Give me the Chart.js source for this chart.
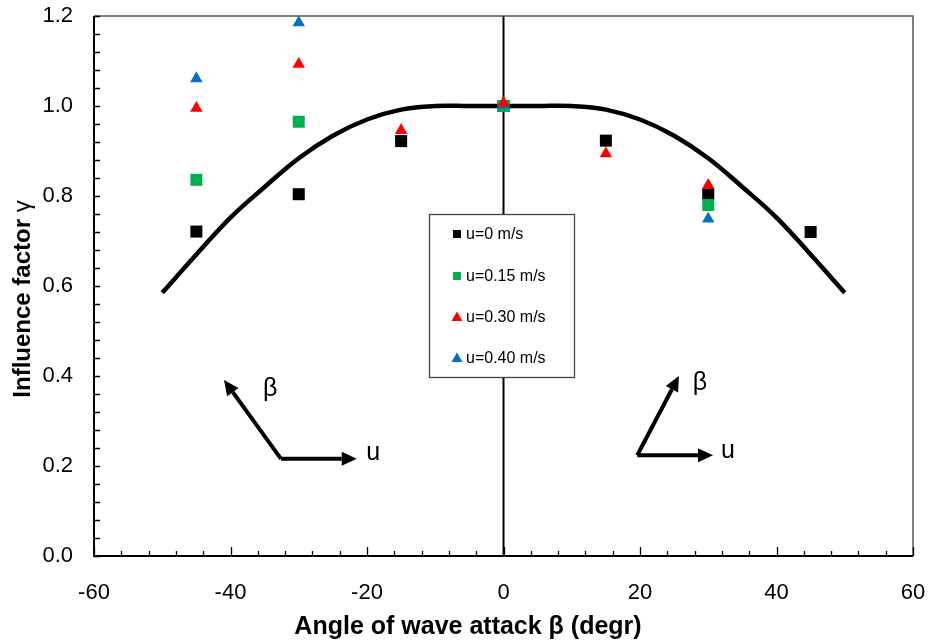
<!DOCTYPE html>
<html><head><meta charset="utf-8">
<script src="https://cdn.jsdelivr.net/npm/chart.js@4/dist/chart.umd.min.js"></script>
<style>html,body{margin:0;padding:0;background:#fff;}#wrap{width:934px;height:643px;position:relative;}</style>
</head><body><div id="wrap"><canvas id="c" width="934" height="643"></canvas></div>
<script>
// ---- data ----
const anglesU000 = [-45, -30, -15, 0, 15, 30, 45];
const gammaU000  = [0.721, 0.804, 0.922, 1.0, 0.923, 0.804, 0.72];
const anglesU015 = [-45, -30, 0, 30];
const gammaU015  = [0.836, 0.965, 1.0, 0.78];
const anglesU030 = [-45, -30, -15, 0, 15, 30];
const gammaU030  = [0.995, 1.093, 0.946, 1.007, 0.894, 0.824];
const anglesU040 = [-45, -30, 0, 30];
const gammaU040  = [1.061, 1.185, 1.002, 0.749];
const curveAngles = [-50, -45, -40, -35, -30, -25, -20, -15, -10, -5, 0, 5, 10, 15, 20, 25, 30, 35, 40, 45, 50];
const curveGamma  = [0.585, 0.67, 0.752, 0.82, 0.884, 0.934, 0.97, 0.992, 1.0, 1.0, 1.0, 1.0, 1.0, 0.992, 0.97, 0.934, 0.884, 0.82, 0.752, 0.67, 0.585];
const zeroLineX = [0, 0];
const zeroLineY = [0, 1.2];
const seriesLabels = ['u=0 m/s', 'u=0.15 m/s', 'u=0.30 m/s', 'u=0.40 m/s'];
const seriesColors = ['#000000', '#00B050', '#FF0000', '#0070C0'];
const seriesStyles = ['rect', 'rect', 'triangle', 'triangle'];
const xTickValues = [-60, -40, -20, 0, 20, 40, 60];
const yTickValues = [0.0, 0.2, 0.4, 0.6, 0.8, 1.0, 1.2];
const xTitle = 'Angle of wave attack \u03B2 (degr)';
const yTitleMain = 'Influence factor ';
const yTitleSym = '\u03B3';

const pts = (xs, ys) => xs.map((x, i) => ({x: x, y: ys[i]}));
const FONT = "'Liberation Sans', Arial, sans-serif";

function seriesDs(i, xs, ys, order) {
  return {
    label: seriesLabels[i], data: pts(xs, ys), showLine: false,
    pointStyle: seriesStyles[i],
    pointRadius: seriesStyles[i] === 'rect' ? 8.5 : 7.2,
    pointHoverRadius: 8,
    backgroundColor: seriesColors[i], borderColor: seriesColors[i], borderWidth: 0,
    order: order
  };
}

const frameAndTicks = {
  id: 'frameAndTicks',
  afterDatasetsDraw(chart) {
    const {ctx, chartArea: a, scales: {x, y}} = chart;
    ctx.save();
    ctx.strokeStyle = '#555'; ctx.lineWidth = 1.5;
    ctx.beginPath();
    ctx.moveTo(a.left, a.top); ctx.lineTo(a.right, a.top); ctx.lineTo(a.right, a.bottom);
    ctx.stroke();
    ctx.strokeStyle = '#000'; ctx.lineWidth = 2;
    ctx.beginPath();
    ctx.moveTo(a.left, a.top); ctx.lineTo(a.left, a.bottom); ctx.lineTo(a.right, a.bottom);
    ctx.stroke();
    ctx.lineWidth = 1.3;
    ctx.beginPath();
    for (let v = -60; v <= 60; v += 4) {
      const px = Math.round(x.getPixelForValue(v)) + 0.5;
      const len = (v % 20 === 0) ? 9 : 5;
      ctx.moveTo(px, a.bottom); ctx.lineTo(px, a.bottom - len);
    }
    for (let k = 0; k <= 30; k++) {
      const py = Math.round(y.getPixelForValue(k * 0.04)) + 0.5;
      ctx.moveTo(a.left, py); ctx.lineTo(a.left + 6, py);
    }
    ctx.stroke();
    ctx.restore();
  }
};

function arrow(ctx, x0, y0, x1, y1) {
  const ang = Math.atan2(y1 - y0, x1 - x0);
  const hl = 15, hw = 7;
  const bx = x1 - hl * Math.cos(ang), by = y1 - hl * Math.sin(ang);
  ctx.beginPath();
  ctx.moveTo(x0, y0); ctx.lineTo(bx, by); ctx.stroke();
  ctx.beginPath();
  ctx.moveTo(x1, y1);
  ctx.lineTo(bx + hw * Math.sin(ang), by - hw * Math.cos(ang));
  ctx.lineTo(bx - hw * Math.sin(ang), by + hw * Math.cos(ang));
  ctx.closePath(); ctx.fill();
}

const sketches = [
  {o: [-32.6, 0.216], b: [-40.95, 0.391], u: [-21.5, 0.216], bl: [-34.2, 0.371], ul: [-19.1, 0.229]},
  {o: [19.6, 0.224], b: [25.7, 0.40], u: [30.7, 0.224], bl: [28.8, 0.384], ul: [32.9, 0.233]}
];

const annot = {
  id: 'annot',
  afterDraw(chart) {
    const {ctx, scales: {x, y}} = chart;
    const P = p => [x.getPixelForValue(p[0]), y.getPixelForValue(p[1])];
    ctx.save();
    ctx.strokeStyle = '#000'; ctx.fillStyle = '#000'; ctx.lineWidth = 4; ctx.lineCap = 'butt'; ctx.lineJoin = 'miter';
    sketches.forEach(s => {
      const o = P(s.o), b = P(s.b), u = P(s.u);
      arrow(ctx, o[0], o[1], b[0], b[1]);
      arrow(ctx, o[0], o[1], u[0], u[1]);
      ctx.font = '25px ' + FONT; ctx.textAlign = 'center'; ctx.textBaseline = 'middle';
      const bl = P(s.bl), ul = P(s.ul);
      ctx.fillText('\u03B2', bl[0], bl[1]);
      ctx.fillText('u', ul[0], ul[1]);
    });
    // legend
    const L = 429.5, T = 214.5, W = 145, H = 163;
    ctx.fillStyle = '#fff'; ctx.fillRect(L, T, W, H);
    ctx.strokeStyle = '#444'; ctx.lineWidth = 1.3; ctx.strokeRect(L, T, W, H);
    const rows = [234, 276, 317, 358];
    ctx.font = '16px ' + FONT; ctx.textAlign = 'left'; ctx.textBaseline = 'middle';
    rows.forEach((ry, i) => {
      ctx.fillStyle = seriesColors[i];
      const mx = 457;
      if (seriesStyles[i] === 'rect') {
        ctx.fillRect(mx - 4, ry - 4, 8, 8);
      } else {
        ctx.beginPath();
        ctx.moveTo(mx, ry - 5.5); ctx.lineTo(mx + 5.5, ry + 4); ctx.lineTo(mx - 5.5, ry + 4);
        ctx.closePath(); ctx.fill();
      }
      ctx.fillStyle = '#000';
      ctx.fillText(seriesLabels[i], 466, ry + 1);
    });
    // axis titles
    ctx.fillStyle = '#000'; ctx.textBaseline = 'middle';
    ctx.font = 'bold 25px ' + FONT; ctx.textAlign = 'center';
    ctx.fillText(xTitle, 468, 627);
    ctx.save();
    ctx.translate(23, 299); ctx.rotate(-Math.PI / 2);
    ctx.font = 'bold 24px ' + FONT;
    const w1 = ctx.measureText(yTitleMain).width;
    ctx.font = '24px ' + FONT;
    const w2 = ctx.measureText(yTitleSym).width;
    const start = -(w1 + w2) / 2;
    ctx.textAlign = 'left';
    ctx.font = 'bold 24px ' + FONT;
    ctx.fillText(yTitleMain, start, 0);
    ctx.font = '24px ' + FONT;
    ctx.fillText(yTitleSym, start + w1, 0);
    ctx.restore();
    ctx.restore();
  }
};

function zeroPad(s) { s.paddingTop = 0; s.paddingBottom = 0; s.paddingLeft = 0; s.paddingRight = 0; }

new Chart(document.getElementById('c'), {
  type: 'scatter',
  data: {
    datasets: [
      seriesDs(2, anglesU030, gammaU030, 1),
      seriesDs(3, anglesU040, gammaU040, 2),
      seriesDs(1, anglesU015, gammaU015, 3),
      seriesDs(0, anglesU000, gammaU000, 4),
      {label: 'curve', data: pts(curveAngles, curveGamma), showLine: true, borderColor: '#000', borderWidth: 4.5,
       pointRadius: 0, tension: 0.4, fill: false, order: 10},
      {label: 'zero', data: pts(zeroLineX, zeroLineY), showLine: true, borderColor: '#000', borderWidth: 2,
       pointRadius: 0, fill: false, order: 11}
    ]
  },
  options: {
    responsive: false, animation: false, devicePixelRatio: 1,
    layout: {padding: {top: 16, right: 21, left: 0, bottom: 0}},
    plugins: {legend: {display: false}, tooltip: {enabled: false}},
    scales: {
      x: {
        type: 'linear', min: -60, max: 60,
        afterBuildTicks: s => { s.ticks = xTickValues.map(v => ({value: v})); },
        afterFit: s => { s.height = 87; zeroPad(s); },
        grid: {display: false, drawTicks: false}, border: {display: false},
        ticks: {color: '#000', font: {family: FONT, size: 22}, padding: 24, maxRotation: 0,
                callback: v => String(v)},
        title: {display: false}
      },
      y: {
        type: 'linear', min: 0, max: 1.2,
        afterBuildTicks: s => { s.ticks = yTickValues.map(v => ({value: v})); },
        afterFit: s => { s.width = 94; zeroPad(s); },
        grid: {display: false, drawTicks: false}, border: {display: false},
        ticks: {color: '#000', font: {family: FONT, size: 22}, padding: 21,
                callback: v => Number(v).toFixed(1)},
        title: {display: false}
      }
    }
  },
  plugins: [frameAndTicks, annot]
});
</script></body></html>
